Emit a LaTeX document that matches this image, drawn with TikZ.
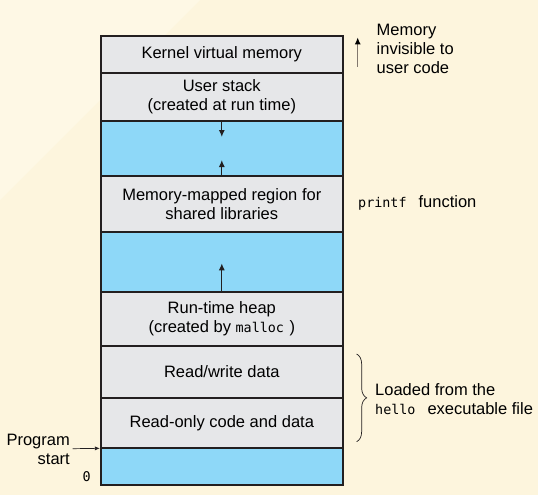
\documentclass[tikz,border=0pt]{standalone}
\usepackage{fontspec}
\setmainfont{Liberation Sans}
\setmonofont{DejaVu Sans Mono}
\usetikzlibrary{positioning,arrows.meta,decorations.pathreplacing}
\definecolor{paper}{RGB}{253,245,221}
\definecolor{paperlight}{RGB}{254,248,229}
\definecolor{segfill}{RGB}{230,231,233}
\definecolor{gapfill}{RGB}{142,216,248}
\definecolor{rim}{RGB}{35,31,32}
\definecolor{shaft}{RGB}{130,120,110}
\newcommand{\mono}[1]{{\fontsize{13.4}{19}\selectfont\ttfamily #1}}

\begin{document}
\begin{tikzpicture}[x=1pt,y=-1pt,
seg/.style={rectangle, draw=rim, line width=2pt, fill=segfill, minimum width=241.7pt, outer sep=0pt, inner sep=0pt, align=center, font=\fontsize{16.5}{19}\selectfont},
gap/.style={seg, fill=gapfill},
note/.style={inner sep=0pt, font=\fontsize{16.5}{19}\selectfont},
growarrow/.style={-{Latex[length=7pt,width=6pt]}, line width=1.2pt, draw=rim}
]
%Background
\useasboundingbox (0,0) rectangle (538,495);
\fill[paper] (0,0) rectangle (538,495);
\fill[paperlight] (0,0) -- (200,0) -- (0,200) -- cycle;
%Nodes
\node[seg, minimum height=37.6pt] (kernel) at (221.8,54.5) {Kernel virtual memory};
\node[seg, minimum height=47.4pt] (stack)  [below=0pt of kernel] {User stack\\(created at run time)};
\node[gap, minimum height=55.3pt] (gapa)   [below=0pt of stack]  {};
\node[seg, minimum height=55.7pt] (shlib)  [below=0pt of gapa]   {Memory-mapped region for\\shared libraries};
\node[gap, minimum height=60.6pt] (gapb)   [below=0pt of shlib]  {};
\node[seg, minimum height=53.4pt] (heap)   [below=0pt of gapb]   {Run-time heap\\(created by \mono{malloc}\,\,)};
\node[seg, minimum height=52pt]   (rwdata) [below=0pt of heap]   {Read/write data};
\node[seg, minimum height=50.6pt] (rodata) [below=0pt of rwdata] {Read-only code and data};
\node[gap, minimum height=36.7pt] (bottom) [below=0pt of rodata] {};
%Labels
\node[note, align=left, anchor=west]  (invis)     at (376.5,49)  {Memory\\invisible to\\user code};
\node[note, align=left, anchor=west]  (printf)    at (358,203)   {\mono{printf}\hspace{12pt}function};
\node[note, align=left, anchor=west]  (loaded)    at (375,399.5) {Loaded from the\\\mono{hello}\hspace{12pt}executable file};
\node[note, align=right, anchor=east] (progstart) at (70,449)    {Program\\start};
\node[note, anchor=east]              (zero)      at (91,477)    {\mono{0}};
\coordinate (stacktip) at ([yshift=-16.3pt]gapa.north);
\coordinate (mmaptip)  at ([yshift=16pt]gapa.south);
\coordinate (heaptip)  at ([yshift=29pt]gapb.south);
\coordinate (invbot)   at (357.7,66.7);
\coordinate (invtop)   at (357.7,37.3);
\coordinate (startfrom) at (72.7,448.7);
%Lines
\draw[growarrow] (gapa.north) -- (stacktip);
\draw[growarrow] (gapa.south) -- (mmaptip);
\draw[growarrow] (gapb.south) -- (heaptip);
\draw[-{Latex[length=7pt,width=6pt,color=black]}, line width=1.4pt, draw=shaft] (invbot) -- (invtop);
\draw[-{Latex[length=5pt,width=4pt]}, line width=0.7pt, draw=rim, shorten >=1pt] (startfrom) -- (rodata.south west);
\draw[decorate, decoration={brace, amplitude=10pt}, line width=0.7pt, draw=rim]
  ([xshift=14pt,yshift=-8.3pt]rwdata.north east) -- ([xshift=14pt,yshift=6.6pt]rodata.south east);
\end{tikzpicture}
\end{document}
